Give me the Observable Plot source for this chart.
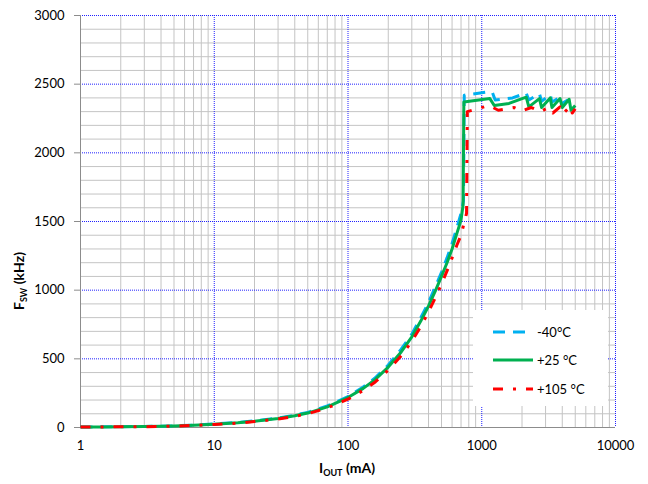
<!DOCTYPE html>
<html><head><meta charset="utf-8">
<script src="https://cdn.jsdelivr.net/npm/d3@7"></script>
<script src="https://cdn.jsdelivr.net/npm/@observablehq/plot@0.6"></script>
<style>body{margin:0;background:#fff;font-family:Lato,sans-serif}</style>
</head><body><div id="chart"></div>
<script>
// ---- data ----
const seriesNames = ["-40°C", "+25 °C", "+105 °C"];
const xTickLabels = [1, 10, 100, 1000, 10000];
const yTickLabels = [0, 500, 1000, 1500, 2000, 2500, 3000];
const xTitle = ["I", "OUT", " (mA)"];
const yTitle = ["F", "SW", " (kHz)"];

const iM40 = [1,1.5,2,3,4,5,7,10,15,20,30,40,50,70,100,130,160,200,250,300,350,400,450,500,550,600,650,700,730,740,1150,1200,1260,1700,2150,2250,2700,2800,3250,3350,3850,4000,4400];
const fM40 = [4,5,6,8,10,12,17,26,37,48,69,90,110,157,225,295,362,455,570,680,800,910,1025,1130,1235,1340,1450,1560,1650,2420,2445,2440,2385,2400,2435,2385,2430,2375,2425,2370,2405,2360,2385];

const iP25 = [1,1.5,2,3,4,5,7,10,15,20,30,40,50,70,100,130,160,200,250,300,350,400,450,500,550,600,650,700,725,735,1150,1240,1600,2150,2250,2700,2800,3250,3350,3850,4000,4500,4650,5000];
const fP25 = [3,4,5,7,9,11,16,24,35,46,66,86,105,150,218,285,350,440,550,660,775,885,995,1100,1200,1300,1410,1510,1620,2370,2395,2345,2360,2405,2335,2395,2330,2400,2330,2395,2330,2390,2310,2345];

const iP105 = [1,1.5,2,3,4,5,7,10,15,20,30,40,50,70,100,130,160,200,250,300,350,400,450,500,550,600,650,700,770,780,925,1130,1330,1750,2000,2350,2750,3150,3400,3850,4050,4600,4750,5000];
const fP105 = [3,4,5,6,8,10,15,22,32,43,62,81,100,142,206,270,332,418,522,628,735,842,945,1045,1140,1235,1325,1400,1560,2300,2320,2345,2310,2330,2305,2330,2300,2330,2290,2335,2285,2340,2290,2320];

const colors = ["#00b0f0", "#00b050", "#ff0000"];
const dashes = ["12,8", null, "10,10,3,10"];

// ---- build table ----
const seriesData = [[iM40, fM40], [iP25, fP25], [iP105, fP105]].map(([I, F], s) =>
  I.map((v, k) => ({series: seriesNames[s], I: v, F: F[k]})));

const minorX = [];
for (const d of [1, 10, 100, 1000]) for (let k = 2; k <= 9; k++) minorX.push(d * k);
const minorY = d3.range(100, 3000, 100).filter(v => v % 500 !== 0);

const chart = Plot.plot({
  width: 648, height: 484,
  marginLeft: 80, marginRight: 33, marginTop: 15, marginBottom: 57,
  style: {fontFamily: "Lato, sans-serif", fontSize: "13px", color: "#000", background: "#fff"},
  x: {type: "log", domain: [1, 10000]},
  y: {domain: [0, 3000]},
  marks: [
    Plot.ruleX(minorX, {stroke: "#c4c4c4", strokeWidth: 1}),
    Plot.ruleY(minorY, {stroke: "#c4c4c4", strokeWidth: 1}),
    Plot.ruleX(xTickLabels.slice(1), {stroke: "#2020ff", strokeWidth: 1, strokeDasharray: "1,1"}),
    Plot.ruleY(yTickLabels.slice(1), {stroke: "#2020ff", strokeWidth: 1, strokeDasharray: "1,1"}),
    Plot.ruleX([1], {stroke: "#8c8c8c"}),
    Plot.ruleY([0], {stroke: "#8c8c8c"}),
    ...seriesData.map((rows, s) => Plot.line(rows, {
      x: "I", y: "F", stroke: colors[s], strokeWidth: 3,
      strokeDasharray: dashes[s], strokeLinecap: "butt", strokeLinejoin: "round"
    })),
    Plot.axisY({ticks: yTickLabels, tickSize: 6, tickPadding: 10, tickFormat: d3.format("d"), stroke: "#8c8c8c", fill: "#000", label: null, fontSize: 13}),
    Plot.axisX({ticks: xTickLabels, tickSize: 0, tickPadding: 13, tickFormat: d3.format("d"), fill: "#000", label: null, fontSize: 13})
  ]
});
document.getElementById("chart").appendChild(chart);

const svg = d3.select(chart);
// axis titles with subscripts
function title(g, parts) {
  g.attr("text-anchor", "middle").attr("font-weight", "bold").attr("font-size", 14).attr("fill", "#000");
  g.append("tspan").text(parts[0]);
  g.append("tspan").attr("font-size", 9).attr("dy", 3).text(parts[1]);
  g.append("tspan").attr("dy", -3).text(parts[2]);
}
title(svg.append("text").attr("x", 347).attr("y", 473), xTitle);
title(svg.append("text").attr("transform", "translate(24,281) rotate(-90)"), yTitle);

// legend
const lg = svg.append("g");
lg.append("rect").attr("x", 473).attr("y", 310).attr("width", 135).attr("height", 96).attr("fill", "#fff");
const ys = [332, 360, 389];
seriesNames.forEach((n, s) => {
  lg.append("line").attr("x1", 493).attr("x2", s === 0 ? 525 : 533).attr("y1", ys[s]).attr("y2", ys[s])
    .attr("stroke", colors[s]).attr("stroke-width", 3).attr("stroke-dasharray", dashes[s]);
  lg.append("text").attr("x", 537).attr("y", ys[s]).attr("dy", "0.35em").attr("font-size", 13)
    .attr("text-anchor", "start").attr("fill", "#000").text(n);
});
</script>
</body></html>
